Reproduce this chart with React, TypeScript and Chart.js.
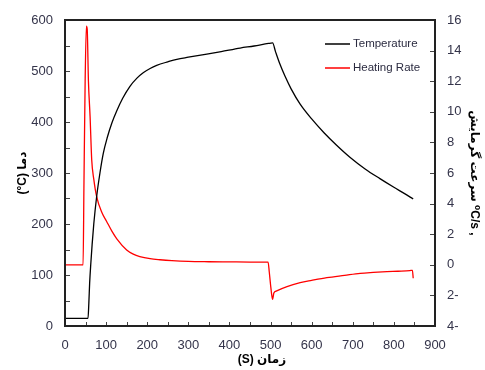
import React, { useEffect, useRef } from 'react';
import { Chart, registerables } from 'chart.js';

Chart.register(...registerables);

// Temperature series (time in s, temperature in °C)
const tempTime = [0, 20, 40, 56, 58, 60, 63, 66, 70, 77, 85, 93, 103, 114, 126, 140, 158, 175, 191, 207, 223, 250, 272, 300, 345, 380, 426, 460, 495, 505, 512, 522, 535, 550, 572, 600, 630, 660, 693, 730, 766, 800, 825, 847];
const tempValues = [15, 15, 15, 15, 45, 85, 125, 160, 200, 254, 300, 338, 370, 398, 422, 446, 470, 486, 497, 505, 511, 518, 523, 527, 533, 538, 545, 549, 554, 555, 538, 515, 490, 465, 435, 406, 379, 355, 331, 308, 289, 272, 260, 249];

// Heating rate series (time in s, rate in °C/s)
const rateTime = [0, 20, 44, 46, 49, 52, 54, 57, 61, 65, 70, 77, 90, 101, 114, 126, 150, 166, 182, 207, 231, 260, 300, 350, 400, 450, 494, 497, 500, 503, 505, 508, 515, 540, 572, 600, 637, 680, 718, 750, 783, 810, 839, 845, 847];
const rateValues = [0, 0, 0, 5, 12, 15.6, 15.4, 12, 9.7, 6.85, 5.6, 4.45, 3.4, 2.85, 2.2, 1.7, 0.97, 0.7, 0.54, 0.4, 0.33, 0.27, 0.22, 0.2, 0.19, 0.18, 0.17, -0.5, -1.3, -2.0, -2.25, -1.85, -1.7, -1.42, -1.17, -1.02, -0.84, -0.69, -0.56, -0.5, -0.45, -0.42, -0.38, -0.36, -0.88];

const seriesLabels = ['Temperature', 'Heating Rate'];
const seriesColors = ['#000000', '#ff0000'];

const xTitle = '(S) زمان';
const yTitle = '(°C) دما';
const y1Title = 'سرعت گرمایش \u200E⁰C/s ,';

const FONT = '"Liberation Sans", Arial, "DejaVu Sans", sans-serif';
const TICK_COLOR = '#34344a';

const framePlugin = {
  id: 'framePlugin',
  afterDraw(chart: any) {
    const { ctx, chartArea, scales } = chart;
    const { left, right, top, bottom } = chartArea;
    ctx.save();
    // inward tick marks
    ctx.strokeStyle = '#444';
    ctx.lineWidth = 1;
    ctx.beginPath();
    const xs = scales.x;
    for (let v = xs.min; v <= xs.max + 1e-9; v += 50) {
      const px = Math.round(xs.getPixelForValue(v)) + 0.5;
      ctx.moveTo(px, bottom);
      ctx.lineTo(px, bottom - 4);
    }
    const ys = scales.y;
    for (let v = ys.min; v <= ys.max + 1e-9; v += 50) {
      const py = Math.round(ys.getPixelForValue(v)) + 0.5;
      ctx.moveTo(left, py);
      ctx.lineTo(left + 5, py);
    }
    const y1 = scales.y1;
    for (let v = y1.min; v <= y1.max + 1e-9; v += 2) {
      const py = Math.round(y1.getPixelForValue(v)) + 0.5;
      ctx.moveTo(right, py);
      ctx.lineTo(right - 5, py);
    }
    ctx.stroke();
    // frame
    ctx.strokeStyle = '#222';
    ctx.lineWidth = 2;
    ctx.strokeRect(left, top, right - left, bottom - top);

    // legend
    ctx.font = `11.5px ${FONT}`;
    ctx.textBaseline = 'middle';
    ctx.textAlign = 'left';
    const lx = 325;
    const ly = [44, 68];
    seriesLabels.forEach((lab, i) => {
      ctx.strokeStyle = seriesColors[i];
      ctx.lineWidth = 1.5;
      ctx.beginPath();
      ctx.moveTo(lx, ly[i]);
      ctx.lineTo(lx + 25, ly[i]);
      ctx.stroke();
      ctx.fillStyle = '#2b2b40';
      ctx.fillText(lab, lx + 28, ly[i]);
    });

    // x-axis title
    ctx.font = `bold 12px ${FONT}`;
    ctx.fillStyle = '#000';
    ctx.textAlign = 'center';
    ctx.fillText(xTitle, 262, 360);
    ctx.restore();
  },
};

export default function App() {
  const ref = useRef<HTMLCanvasElement>(null);
  useEffect(() => {
    document.body.style.margin = '0';
    const tempData = tempTime.map((t, i) => ({ x: t, y: tempValues[i] }));
    const rateData = rateTime.map((t, i) => ({ x: t, y: rateValues[i] }));
    const tickFont = { family: FONT, size: 13 };
    const chart = new Chart(ref.current as HTMLCanvasElement, {
      type: 'line',
      data: {
        datasets: [
          {
            label: seriesLabels[0],
            data: tempData,
            borderColor: seriesColors[0],
            borderWidth: 1.3,
            pointRadius: 0,
            yAxisID: 'y',
            cubicInterpolationMode: 'monotone',
          },
          {
            label: seriesLabels[1],
            data: rateData,
            borderColor: seriesColors[1],
            borderWidth: 1.3,
            pointRadius: 0,
            yAxisID: 'y1',
            cubicInterpolationMode: 'monotone',
          },
        ],
      },
      options: {
        animation: false,
        responsive: false,
        layout: { padding: { top: 20 } },
        plugins: { legend: { display: false }, tooltip: { enabled: false } },
        scales: {
          x: {
            type: 'linear',
            min: 0,
            max: 900,
            ticks: { stepSize: 100, font: tickFont, color: TICK_COLOR, padding: 12, maxRotation: 0 },
            grid: { display: false, drawTicks: false },
            border: { display: false },
            afterFit(s: any) { s.height = 44; },
          },
          y: {
            position: 'left',
            min: 0,
            max: 600,
            ticks: { stepSize: 100, font: tickFont, color: TICK_COLOR, padding: 12 },
            grid: { display: false, drawTicks: false },
            border: { display: false },
            title: {
              display: true,
              text: yTitle,
              color: '#000',
              font: { family: FONT, size: 12, weight: 'bold' },
              padding: { top: 15, bottom: 0 },
            },
            afterFit(s: any) { s.width = 65; },
          },
          y1: {
            position: 'right',
            min: -4,
            max: 16,
            ticks: {
              stepSize: 2,
              font: tickFont,
              color: TICK_COLOR,
              padding: 12,
              callback: (v: any) => (Number(v) < 0 ? `${Math.abs(Number(v))}-` : `${v}`),
            },
            grid: { display: false, drawTicks: false },
            border: { display: false },
            title: {
              display: true,
              text: y1Title,
              color: '#000',
              font: { family: FONT, size: 12, weight: 'bold' },
              padding: { top: 3, bottom: 0 },
            },
            afterFit(s: any) { s.width = 50; },
          },
        },
      } as any,
      plugins: [framePlugin],
    });
    return () => chart.destroy();
  }, []);
  return (
    <div style={{ width: 485, height: 370 }}>
      <canvas ref={ref} width={485} height={370} style={{ display: 'block' }} />
    </div>
  );
}
